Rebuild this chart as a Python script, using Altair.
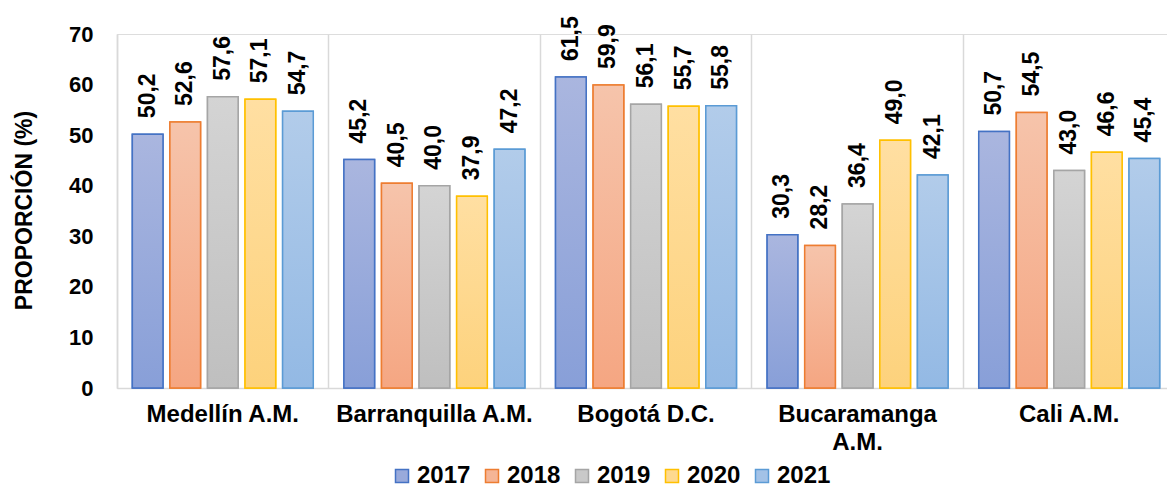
import altair as alt
import pandas as pd

regions = ["Medellín A.M.", "Barranquilla A.M.", "Bogotá D.C.", "Bucaramanga A.M.", "Cali A.M."]
years = ["2017", "2018", "2019", "2020", "2021"]
values = {
    "2017": [50.2, 45.2, 61.5, 30.3, 50.7],
    "2018": [52.6, 40.5, 59.9, 28.2, 54.5],
    "2019": [57.6, 40.0, 56.1, 36.4, 43.0],
    "2020": [57.1, 37.9, 55.7, 49.0, 46.6],
    "2021": [54.7, 47.2, 55.8, 42.1, 45.4],
}
y_ticks = [0, 10, 20, 30, 40, 50, 60, 70]

stroke_colors = ["#4472C4", "#ED7D31", "#A5A5A5", "#FFC000", "#5B9BD5"]
grad_top = ["#AAB6DF", "#F6C4AB", "#D4D4D4", "#FFDFA2", "#B2CCEA"]
grad_bot = ["#889FD8", "#F5A682", "#BFBFBF", "#FDD27C", "#93B9E4"]
mid_colors = ["#99AADB", "#F5B596", "#C9C9C9", "#FED98F", "#A3C2E7"]

rows = []
for yr in years:
    for reg, v in zip(regions, values[yr]):
        rows.append({"region": reg, "year": yr, "v": v})
df = pd.DataFrame(rows)

FONT = "Liberation Sans"

def grad(top, bot):
    return {"gradient": "linear", "x1": 0, "y1": 0, "x2": 0, "y2": 1,
            "stops": [{"offset": 0, "color": top}, {"offset": 1, "color": bot}]}

x_enc = alt.X("region:N", sort=regions, title=None,
              scale=alt.Scale(range=[0, 1058], paddingInner=0, paddingOuter=0),
              axis=alt.Axis(labelAngle=0, labelFontSize=24, labelFontWeight="bold",
                            labelColor="black", labelFont=FONT, ticks=False, labelLimit=0,
                            domainColor="#D9D9D9", domainWidth=1.5, labelPadding=14,
                            labelLineHeight=28, grid=True, gridColor="#D9D9D9",
                            gridWidth=1.5, bandPosition=0,
                            labelExpr="datum.label == 'Bucaramanga A.M.' ? ['Bucaramanga', 'A.M.'] : datum.label"))
xoff_enc = alt.XOffset("year:N", sort=years,
                       scale=alt.Scale(paddingInner=0.184, paddingOuter=0.408))
y_enc = alt.Y("v:Q", title="PROPORCIÓN (%)",
              scale=alt.Scale(domain=[0, 70], nice=False),
              axis=alt.Axis(values=y_ticks, ticks=False, grid=False, domainColor="#D9D9D9",
                            domainWidth=1.5, labelFontSize=22, labelFontWeight="bold",
                            labelColor="black", labelFont=FONT, labelPadding=24,
                            titleFontSize=23, titleFontWeight="bold", titleFont=FONT,
                            titleColor="black", titleX=-93, titleY=176, titleAngle=270,
                            titleAlign="center", titleBaseline="middle"))

leg = alt.Legend(title=None, orient="none", legendX=273, legendY=430, direction="horizontal",
                 symbolType="square", symbolSize=169, symbolStrokeWidth=1.5,
                 labelFontSize=24, labelFontWeight="bold", labelFont=FONT,
                 labelColor="black", labelOffset=3, columnPadding=9)

fill_field = alt.Fill("year:N", sort=years, scale=alt.Scale(domain=years, range=mid_colors), legend=leg)
stroke_field = alt.Stroke("year:N", sort=years, scale=alt.Scale(domain=years, range=stroke_colors), legend=leg)

base = alt.Chart(df)

bars_base = base.mark_bar(strokeWidth=1.5).encode(
    x=x_enc, xOffset=xoff_enc, y=y_enc, fill=fill_field, stroke=stroke_field)

grad_fill = {
    "condition": [{"test": f"datum.year == '{yr}'", "value": grad(t, b)}
                  for yr, t, b in zip(years[:-1], grad_top[:-1], grad_bot[:-1])],
    "value": grad(grad_top[-1], grad_bot[-1]),
}
bars_grad = base.mark_bar(strokeWidth=1.5).encode(
    x=x_enc, xOffset=xoff_enc, y=y_enc, fill=grad_fill, stroke=stroke_field)

labels = base.transform_calculate(
    lbl="replace(format(datum.v, '.1f'), '.', ',')"
).mark_text(angle=270, align="left", baseline="middle", dx=16, fontSize=23,
            fontWeight="bold", font=FONT, color="black").encode(
    x=x_enc, xOffset=xoff_enc, y=y_enc, text="lbl:N")

chart = alt.layer(bars_base, bars_grad, labels).properties(
    width=1050, height=354,
    autosize=alt.AutoSizeParams(type="none"),
    padding={"left": 109, "top": 26, "right": 0, "bottom": 104},
).configure_view(stroke=None).configure(background="white")

chart.save("out.html", embed_options={"renderer": "svg", "actions": False})
